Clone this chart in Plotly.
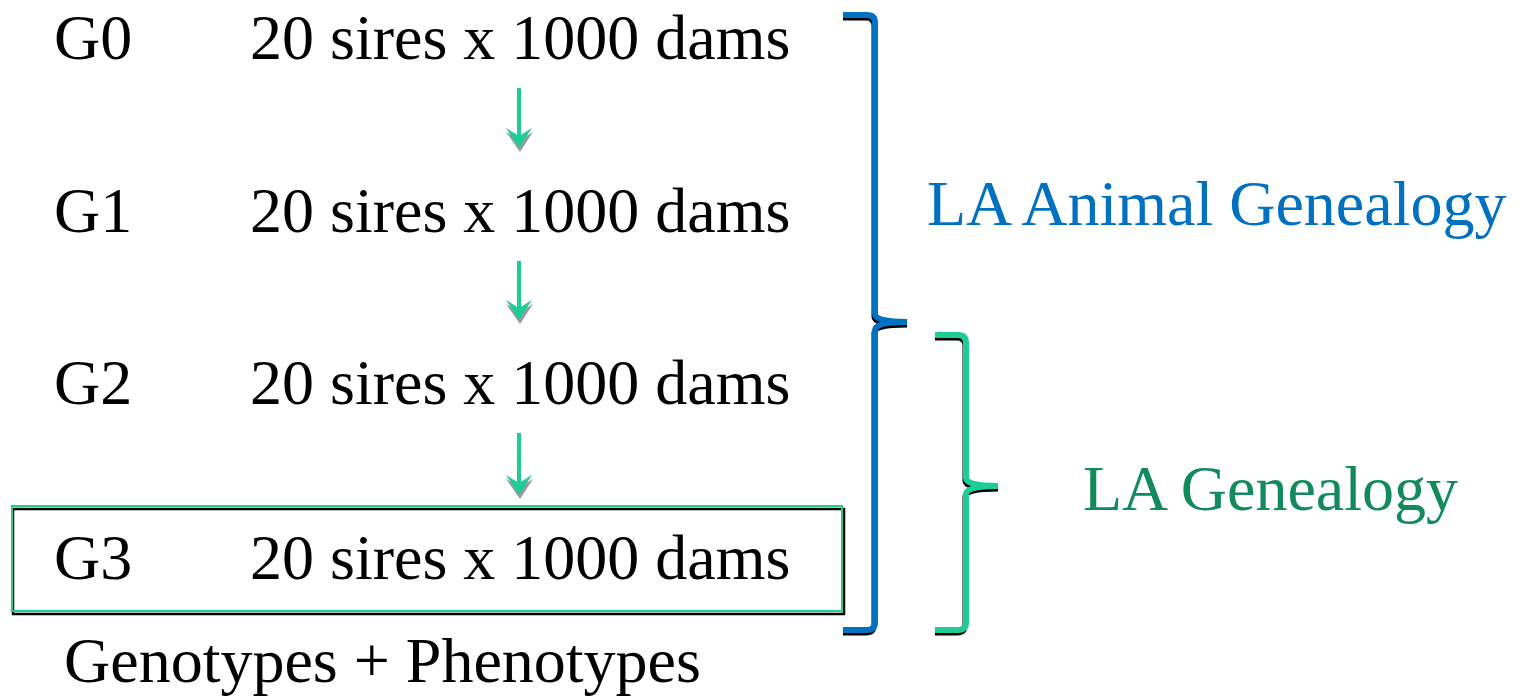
import plotly.graph_objects as go

# ---- content ----
generations = ["G0", "G1", "G2", "G3"]
crosses = ["20 sires x 1000 dams", "20 sires x 1000 dams", "20 sires x 1000 dams", "20 sires x 1000 dams"]
footer = "Genotypes + Phenotypes"
bracket_labels = ["LA Animal Genealogy", "LA Genealogy"]

# ---- layout geometry (pixel-space diagram) ----
W, H = 1518, 697
row_y = [37, 210, 382, 557]
gen_x = 52
cross_x = 248
FONT = "Liberation Serif, Times New Roman, serif"
FS = 64

BLUE = "#0070C0"
TEAL = "#1ECC95"
DKGREEN = "#138A5B"

fig = go.Figure()
shapes = []
annotations = []

for g, c, y in zip(generations, crosses, row_y):
    annotations.append(dict(x=gen_x, y=y, text=g, xanchor="left", yanchor="middle",
                            showarrow=False, font=dict(family=FONT, size=FS, color="black")))
    annotations.append(dict(x=cross_x, y=y, text=c, xanchor="left", yanchor="middle",
                            showarrow=False, font=dict(family=FONT, size=FS, color="black")))

annotations.append(dict(x=62, y=660, text=footer, xanchor="left", yanchor="middle",
                        showarrow=False, font=dict(family=FONT, size=FS, color="black")))
annotations.append(dict(x=925, y=203, text=bracket_labels[0], xanchor="left", yanchor="middle",
                        showarrow=False, font=dict(family=FONT, size=FS, color=BLUE)))
annotations.append(dict(x=1081, y=488, text=bracket_labels[1], xanchor="left", yanchor="middle",
                        showarrow=False, font=dict(family=FONT, size=FS, color=DKGREEN)))

# arrows between generations
ax = 519
for i in range(len(row_y) - 1):
    y0 = row_y[i] + 51
    y1 = row_y[i + 1] - 62
    head = 20
    # shadow of head
    shapes.append(dict(type="path",
                       path=f"M {ax-13},{y1-head+4} L {ax+1},{y1+4} L {ax+14},{y1-head+4} L {ax+1},{y1-head+12} Z",
                       fillcolor="#9a9a9a", line=dict(width=0)))
    shapes.append(dict(type="line", x0=ax, x1=ax, y0=y0, y1=y1 - 6,
                       line=dict(color=TEAL, width=4)))
    shapes.append(dict(type="path",
                       path=f"M {ax-13},{y1-head} L {ax},{y1} L {ax+13},{y1-head} L {ax},{y1-head+8} Z",
                       fillcolor=TEAL, line=dict(width=0)))

# G3 box (black shadow + teal frame)
shapes.append(dict(type="rect", x0=13, y0=509, x1=844, y1=614,
                   line=dict(color="black", width=2.5)))
shapes.append(dict(type="rect", x0=12, y0=506, x1=842, y1=611,
                   line=dict(color=TEAL, width=2)))


def bracket(xl, xv, xt, ytop, ymid, ybot, r=8):
    return (f"M {xl},{ytop} L {xv-r},{ytop} Q {xv},{ytop} {xv},{ytop+r} "
            f"L {xv},{ymid-r} Q {xv},{ymid} {xt},{ymid} "
            f"M {xv},{ymid+r} Q {xv},{ymid} {xt},{ymid} "
            f"M {xv},{ymid+r} L {xv},{ybot-r} Q {xv},{ybot} {xv-r},{ybot} L {xl},{ybot}")


for (xl, xv, xt, yt, ym, yb, col) in [(843, 875, 907, 15, 322, 630, BLUE),
                                      (935, 966, 998, 335, 486, 630, TEAL)]:
    shapes.append(dict(type="path", path=bracket(xl, xv - 1, xt, yt + 3, ym + 3, yb + 3),
                       line=dict(color="black", width=5)))
    shapes.append(dict(type="path", path=bracket(xl, xv, xt, yt, ym, yb),
                       line=dict(color=col, width=6)))

fig.update_layout(
    width=W, height=H,
    margin=dict(l=0, r=0, t=0, b=0),
    paper_bgcolor="white", plot_bgcolor="white",
    xaxis=dict(range=[0, W], visible=False, fixedrange=True),
    yaxis=dict(range=[H, 0], visible=False, fixedrange=True),
    shapes=shapes, annotations=annotations,
    showlegend=False,
)

fig.write_html("out.html", config={"displayModeBar": False},
               post_script="document.body.style.margin='0';document.body.style.overflow='hidden';")
